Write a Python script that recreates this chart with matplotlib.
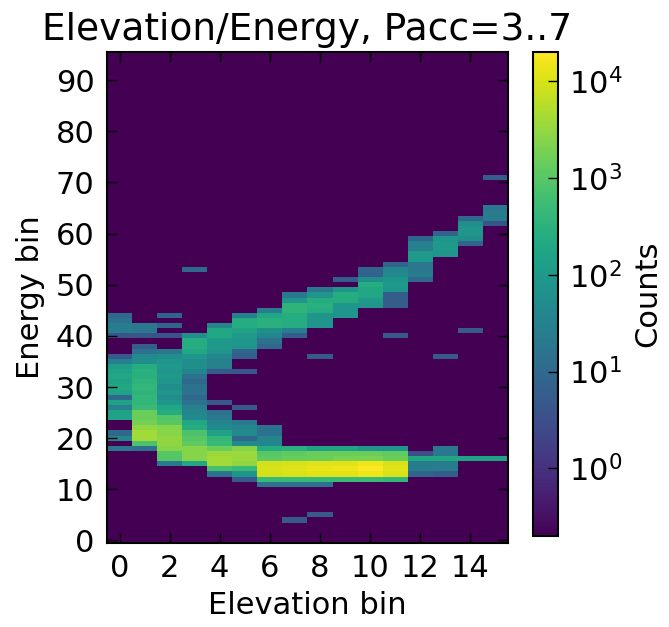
import numpy as np
import matplotlib
matplotlib.use('Agg')
import matplotlib.pyplot as plt
from matplotlib.colors import LogNorm

n_elev = 16
n_energy = 96

# lower band: counts per elevation bin, starting at energy bin low_start[i]
low_start = [18, 18, 15, 15, 13, 12, 11, 11, 11, 12, 12, 12, 13, 13, 16, 16]
low_counts = [
    [20, 0, 40, 10, 0, 0, 150, 150, 30, 150, 10, 150, 200, 150, 200, 150, 120, 30, 5, 0, 0, 0, 4, 25, 25, 15, 10],
    [15, 800, 4000, 4000, 3000, 1800, 1500, 1500, 500, 400, 400, 350, 400, 350, 300, 300, 250, 60, 50, 15, 6, 0, 4, 20, 20],
    [20, 900, 1000, 2500, 3000, 3000, 2500, 2500, 1000, 900, 250, 200, 80, 60, 80, 60, 80, 100, 80, 100, 80, 60, 20, 0, 0, 4, 0, 8, 0, 8],
    [200, 2500, 2500, 2500, 1200, 1000, 800, 250, 200, 50, 40, 30, 15, 10, 15, 15, 10, 15, 40, 60, 60, 80, 200, 250, 250, 60],
    [15, 700, 4000, 4000, 3500, 1500, 500, 400, 150, 50, 40, 20, 15, 0, 5, 0, 0, 0, 0, 0, 5, 30, 30, 40, 80, 100, 100, 200, 200, 40],
    [5, 80, 500, 3000, 3500, 3500, 2500, 50, 10, 50, 40, 20, 0, 0, 5, 0, 0, 0, 0, 0, 0, 4, 0, 0, 6, 8, 80, 80, 100, 150, 250, 250, 30],
    [15, 500, 9000, 10000, 9000, 1200, 1000, 250, 40, 40, 15, 15],
    [15, 500, 10000, 12000, 10000, 1500, 1200, 300],
    [15, 500, 12000, 14000, 12000, 1500, 1500, 150],
    [500, 12000, 15000, 12000, 2000, 1500, 150],
    [500, 15000, 20000, 15000, 2000, 1500, 80],
    [400, 10000, 12000, 10000, 1500, 1200, 80],
    [8, 25, 25, 200, 3],
    [6, 25, 25, 200, 20, 20],
    [150],
    [150],
]

# rising track at higher energies (elevation bins 6..15)
track_elev = [6, 7, 8, 9, 10, 11, 12, 13, 14, 15]
track_start = [38, 40, 42, 44, 46, 46, 51, 56, 58, 62]
track_counts = [
    [10, 15, 40, 60, 300, 300, 200, 25],
    [6, 25, 250, 250, 250, 350, 350, 80, 20],
    [80, 80, 80, 250, 300, 250, 80, 20],
    [80, 80, 80, 250, 250, 80, 0, 6],
    [80, 100, 200, 200, 250, 60, 8, 8],
    [6, 6, 6, 80, 100, 80, 50, 40, 8],
    [10, 25, 20, 20, 100, 100, 30, 30, 8],
    [80, 100, 100, 80, 8],
    [8, 60, 80, 80, 60, 10],
    [4, 25, 25, 20],
]

# isolated single bins
iso_elev = [3, 7, 8, 8, 11, 13, 14, 15]
iso_energy = [53, 4, 5, 36, 40, 36, 41, 71]
iso_counts = [10, 5, 5, 5, 5, 5, 5, 6]

counts = np.zeros((n_energy, n_elev))
for i in range(n_elev):
    c = low_counts[i]
    counts[low_start[i]:low_start[i] + len(c), i] = c
for e, s, c in zip(track_elev, track_start, track_counts):
    counts[s:s + len(c), e] = c
for e, en, c in zip(iso_elev, iso_energy, iso_counts):
    counts[en, e] = c

fig = plt.figure(figsize=(6.69, 6.27), dpi=100)
ax = fig.add_axes([0.160, 0.134, 0.599, 0.783])
cax = fig.add_axes([0.796, 0.145, 0.038, 0.772])

cmap = plt.get_cmap('viridis').copy()
cmap.set_bad(cmap(0.0))
im = ax.imshow(np.ma.masked_equal(counts, 0), origin='lower', aspect='auto',
               interpolation='nearest', cmap=cmap,
               norm=LogNorm(vmin=0.2, vmax=2e4))

ax.set_xticks(range(0, 16, 2))
ax.set_yticks(range(0, 100, 10))
ax.tick_params(direction='in', top=True, right=True, length=7, width=1,
               labelsize=22)
ax.tick_params(axis='x', pad=8)
ax.tick_params(axis='y', pad=9)
for sp in ax.spines.values():
    sp.set_linewidth(1.5)

ax.set_xlabel('Elevation bin', fontsize=22, labelpad=6)
ax.set_ylabel('Energy bin', fontsize=22, labelpad=8)
ax.set_title('Elevation/Energy, Pacc=3..7', fontsize=27, pad=9)

cb = fig.colorbar(im, cax=cax)
cb.minorticks_off()
cb.outline.set_linewidth(1.5)
cax.tick_params(direction='in', length=7, width=1, labelsize=22, pad=8)
cb.set_label('Counts', fontsize=22, labelpad=8)

fig.savefig('out.png', dpi=100)
